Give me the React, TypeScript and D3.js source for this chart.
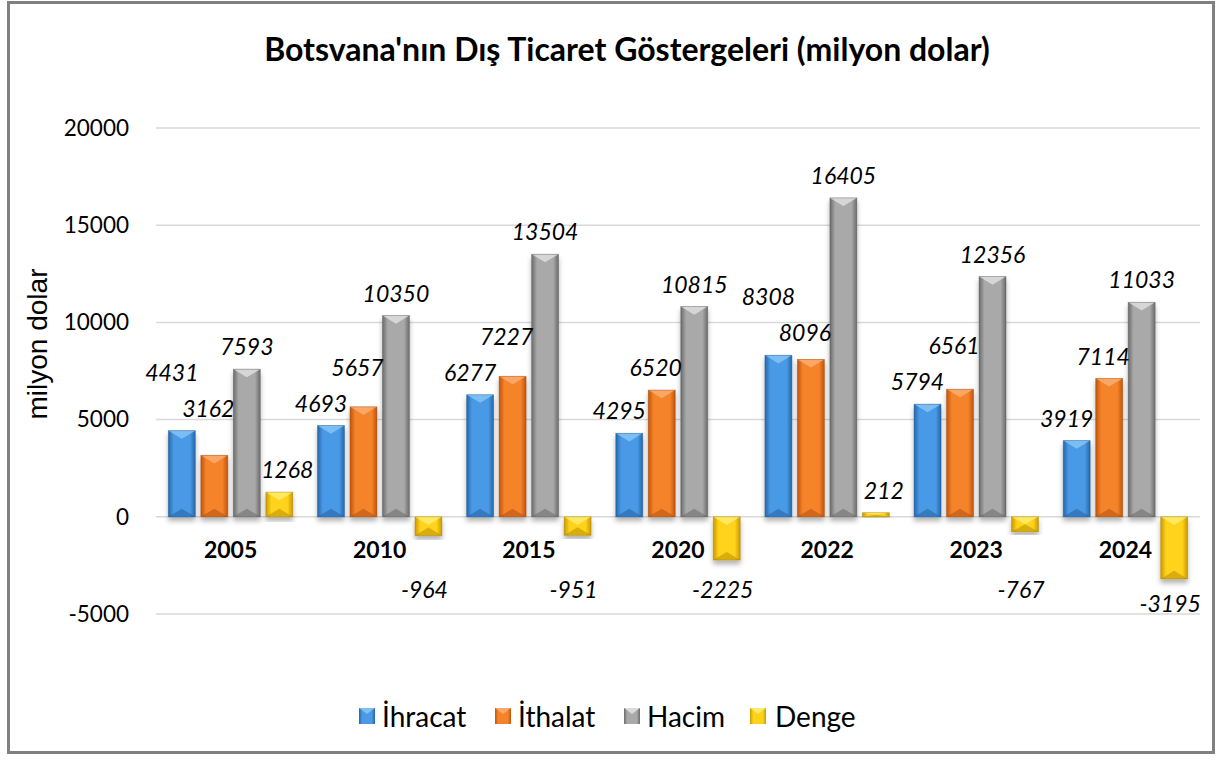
import React from 'react';
import * as d3 from 'd3';

const years = ['2005', '2010', '2015', '2020', '2022', '2023', '2024'];
const seriesNames = ['İhracat', 'İthalat', 'Hacim', 'Denge'];
const ihracat = [4431, 4693, 6277, 4295, 8308, 5794, 3919];
const ithalat = [3162, 5657, 7227, 6520, 8096, 6561, 7114];
const hacim = [7593, 10350, 13504, 10815, 16405, 12356, 11033];
const denge = [1268, -964, -951, -2225, 212, -767, -3195];
const yTicks = [-5000, 0, 5000, 10000, 15000, 20000];

const seriesValues = [ihracat, ithalat, hacim, denge];

// edge / center / top highlight / bottom shade
const palette = [
  { edge: '#2566a8', mid: '#4a9ae6', top: '#8cc8f7', bot: '#1d5590' },
  { edge: '#c0540c', mid: '#f5832a', top: '#fbb27a', bot: '#a1460a' },
  { edge: '#6b6b6b', mid: '#a9a9a9', top: '#e6e6e6', bot: '#5a5a5a' },
  { edge: '#c99a00', mid: '#ffd21a', top: '#fff07a', bot: '#a98100' },
];
const labelDx = [-10, -6, 0, 8];

const W = 1219;
const H = 760;
const font = 'Lato, "Open Sans", sans-serif';

const App = () => {
  const x0 = d3.scaleBand().domain(years).range([156, 1200]);
  const x1 = d3.scaleBand()
    .domain(seriesNames)
    .range([0, x0.bandwidth()])
    .paddingInner(0.17)
    .paddingOuter(0.38);
  const y = d3.scaleLinear().domain([-5000, 20000]).range([614, 128]);
  const bw = x1.bandwidth();

  const labels = [];
  years.forEach((yr, gi) => {
    const bars = seriesNames.map((s, si) => {
      const v = seriesValues[si][gi];
      const cx = x0(yr) + x1(s) + bw / 2;
      return { v, cx, top: y(Math.max(v, 0)), bottom: y(Math.min(v, 0)), si };
    });
    const ls = bars.map((b) => {
      if (b.v < 0) {
        return { ...b, lx: b.cx - 4, ly: Math.max(b.bottom + 25, y(0) + 73) };
      }
      const lx = b.cx + labelDx[b.si];
      // keep the label clear of any bar it sits over
      let base = b.top;
      bars.forEach((o) => {
        if (o.v > 0 && Math.abs(lx - o.cx) < 36) base = Math.min(base, o.top);
      });
      return { ...b, lx, ly: base - 22 };
    });
    for (let i = 0; i < ls.length - 1; i++) {
      const a = ls[i];
      const b = ls[i + 1];
      if (a.v > 0 && b.v > 0 && Math.abs(a.ly - b.ly) < 36) {
        if (a.v >= b.v) a.ly = b.ly - 36;
        else b.ly = a.ly - 36;
      }
    }
    ls.forEach((l) => labels.push({ ...l, gi }));
  });

  const legendX = [359, 495, 624, 750];

  return (
    <svg width={W} height={H} style={{ position: 'absolute', left: 0, top: 0, background: '#fff' }}>
      <defs>
        {palette.map((p, i) => (
          <linearGradient key={i} id={`g${i}`} x1="0" x2="1" y1="0" y2="0">
            <stop offset="0" stopColor={p.edge} />
            <stop offset="0.2" stopColor={p.mid} />
            <stop offset="0.8" stopColor={p.mid} />
            <stop offset="1" stopColor={p.edge} />
          </linearGradient>
        ))}
        <filter id="shadow" x="-30%" y="-10%" width="160%" height="130%">
          <feDropShadow dx="0" dy="4" stdDeviation="2.5" floodColor="#000" floodOpacity="0.3" />
        </filter>
      </defs>
      <rect x={8.5} y={2.5} width={1205} height={750} fill="#fff" stroke="#808080" strokeWidth={3} />

      <text x={627} y={61} textAnchor="middle" fontFamily={font} fontWeight="bold" fontSize={32} fill="#000">
        Botsvana'nın Dış Ticaret Göstergeleri (milyon dolar)
      </text>

      {yTicks.map((t) => (
        <g key={t}>
          <line x1={156} x2={1200} y1={y(t)} y2={y(t)} stroke="#d9d9d9" strokeWidth={1.5} />
          <text x={129} y={y(t)} dy="0.35em" textAnchor="end" fontFamily={font} fontSize={22.5} fill="#000">
            {t}
          </text>
        </g>
      ))}

      <text
        transform={`translate(47,344) rotate(-90)`}
        textAnchor="middle"
        fontFamily='"Liberation Sans", Arial, sans-serif'
        fontSize={28}
        fill="#000"
      >
        milyon dolar
      </text>

      {years.map((yr, gi) => (
        <g key={yr}>
          {seriesNames.map((s, si) => {
            const v = seriesValues[si][gi];
            const bx = x0(yr) + x1(s);
            const top = y(Math.max(v, 0));
            const bot = y(Math.min(v, 0));
            const h = bot - top;
            const d = Math.min(bw * 0.3, h / 2);
            const p = palette[si];
            return (
              <g key={s} filter="url(#shadow)">
                <rect x={bx} y={top} width={bw} height={h} fill={`url(#g${si})`} />
                <path d={`M${bx},${top}L${bx + bw},${top}L${bx + bw / 2},${top + d}Z`} fill={p.top} opacity={0.75} />
                <path d={`M${bx},${bot}L${bx + bw},${bot}L${bx + bw / 2},${bot - d}Z`} fill={p.bot} opacity={0.45} />
                <rect x={bx} y={top} width={bw} height={h} fill="none" stroke={p.bot} strokeOpacity={0.5} strokeWidth={0.8} />
              </g>
            );
          })}
          <text
            x={x0(yr) + x0.bandwidth() / 2}
            y={y(0) + 33}
            dy="0.35em"
            textAnchor="middle"
            fontFamily={font}
            fontWeight="bold"
            fontSize={23}
            fill="#000"
          >
            {yr}
          </text>
        </g>
      ))}

      {labels.map((l, i) => (
        <text
          key={i}
          x={l.lx}
          y={l.ly}
          dy="0.35em"
          textAnchor="middle"
          fontFamily={font}
          fontStyle="italic"
          fontSize={23}
          fill="#000"
        >
          {l.v}
        </text>
      ))}

      {seriesNames.map((s, i) => (
        <g key={s} transform={`translate(${legendX[i]},708)`}>
          <rect width={16} height={16} fill={`url(#g${i})`} />
          <path d="M0,0L16,0L8,6Z" fill={palette[i].top} opacity={0.8} />
          <text x={i === 3 ? 25 : 23} y={8} dy="0.38em" fontFamily={font} fontSize={28} fill="#000">
            {s}
          </text>
        </g>
      ))}
    </svg>
  );
};

export default App;
